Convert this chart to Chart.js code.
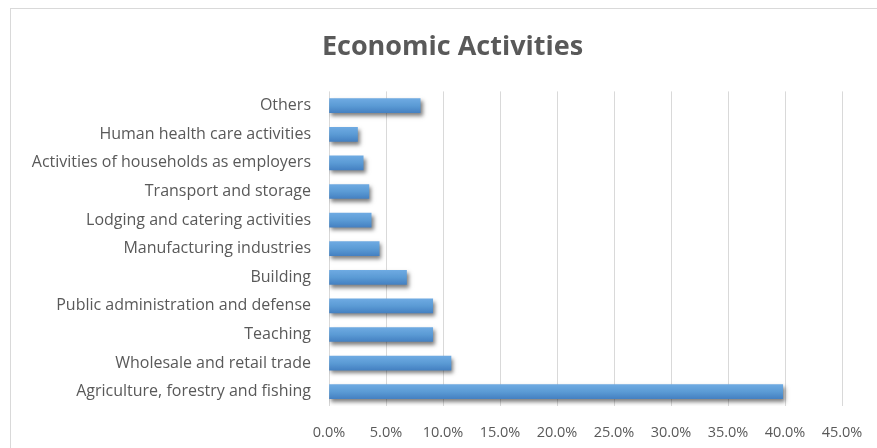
<!DOCTYPE html>
<html>
<head>
<meta charset="utf-8">
<script src="https://cdn.jsdelivr.net/npm/chart.js@4"></script>
<style>
    html, body { margin: 0; padding: 0; background: #fff; overflow: hidden; }
    #frame {
        position: absolute;
        left: 10px;
        top: 8px;
        width: 884px;
        height: 440px;
        border-top: 1px solid #d9d9d9;
        border-left: 1px solid #d9d9d9;
        box-sizing: border-box;
    }
    #chart { position: absolute; left: 0; top: 0; }
</style>
</head>
<body>
<div id="frame">
    <canvas id="chart" width="883" height="439"></canvas>
</div>
<script>
// categories listed bottom-up in the sheet, drawn top-down here
const activities = [
    'Others',
    'Human health care activities',
    'Activities of households as employers',
    'Transport and storage',
    'Lodging and catering activities',
    'Manufacturing industries',
    'Building',
    'Public administration and defense',
    'Teaching',
    'Wholesale and retail trade',
    'Agriculture, forestry and fishing'
];
const shares = [8.0, 2.5, 3.0, 3.5, 3.7, 4.4, 6.8, 9.1, 9.1, 10.7, 39.8];
const tickMax = 45;
const tickStep = 5;

const textColor = '#595959';
const gridColor = '#d9d9d9';
const barThickness = 14;
const rightPad = 52;

function barGradient(context) {
    const chart = context.chart;
    const yScale = chart.scales.y;
    if (!yScale || context.dataIndex === undefined) {
        return '#5b9bd5';
    }
    const center = yScale.getPixelForValue(context.dataIndex);
    if (!isFinite(center)) {
        return '#5b9bd5';
    }
    const g = chart.ctx.createLinearGradient(0, center - barThickness / 2, 0, center + barThickness / 2);
    g.addColorStop(0, '#6eaae2');
    g.addColorStop(0.5, '#5b9bd5');
    g.addColorStop(1, '#4581c2');
    return g;
}

// soft drop shadow under each bar
const barShadow = {
    id: 'barShadow',
    beforeDatasetsDraw(chart) {
        const ctx = chart.ctx;
        ctx.save();
        ctx.shadowColor = 'rgba(0, 0, 0, 0.5)';
        ctx.shadowOffsetX = 2;
        ctx.shadowOffsetY = 3;
        ctx.shadowBlur = 4;
    },
    afterDatasetsDraw(chart) {
        chart.ctx.restore();
    }
};

// centre the title on the whole canvas, ignoring the right padding
const titleCenter = {
    id: 'titleCenter',
    afterLayout(chart) {
        if (chart.titleBlock) {
            chart.titleBlock.right = chart.width;
        }
    }
};

const ctx = document.getElementById('chart').getContext('2d');
const chart = new Chart(ctx, {
    type: 'bar',
    data: {
        labels: activities,
        datasets: [{
            data: shares,
            backgroundColor: barGradient,
            borderWidth: 0,
            barThickness: barThickness
        }]
    },
    options: {
        indexAxis: 'y',
        responsive: false,
        animation: false,
        layout: {
            padding: { top: 0, right: rightPad, bottom: 6, left: 0 }
        },
        plugins: {
            legend: { display: false },
            tooltip: { enabled: false },
            title: {
                display: true,
                text: 'Economic Activities',
                color: textColor,
                font: { family: 'Open Sans', size: 27, weight: 'bold' },
                padding: { top: 22, bottom: 28 }
            }
        },
        scales: {
            x: {
                min: 0,
                max: tickMax,
                grid: { color: gridColor, drawTicks: false },
                border: { display: false },
                ticks: {
                    stepSize: tickStep,
                    padding: 18,
                    color: textColor,
                    font: { family: 'Open Sans', size: 14.5 },
                    callback: (value) => value.toFixed(1) + '%'
                },
                afterFit: (scale) => { scale.height = 36; }
            },
            y: {
                grid: { display: false },
                border: { display: false },
                ticks: {
                    padding: 10,
                    color: textColor,
                    font: { family: 'Open Sans', size: 16 }
                },
                afterFit: (scale) => { scale.width = 318; }
            }
        }
    },
    plugins: [barShadow, titleCenter]
});
</script>
</body>
</html>
